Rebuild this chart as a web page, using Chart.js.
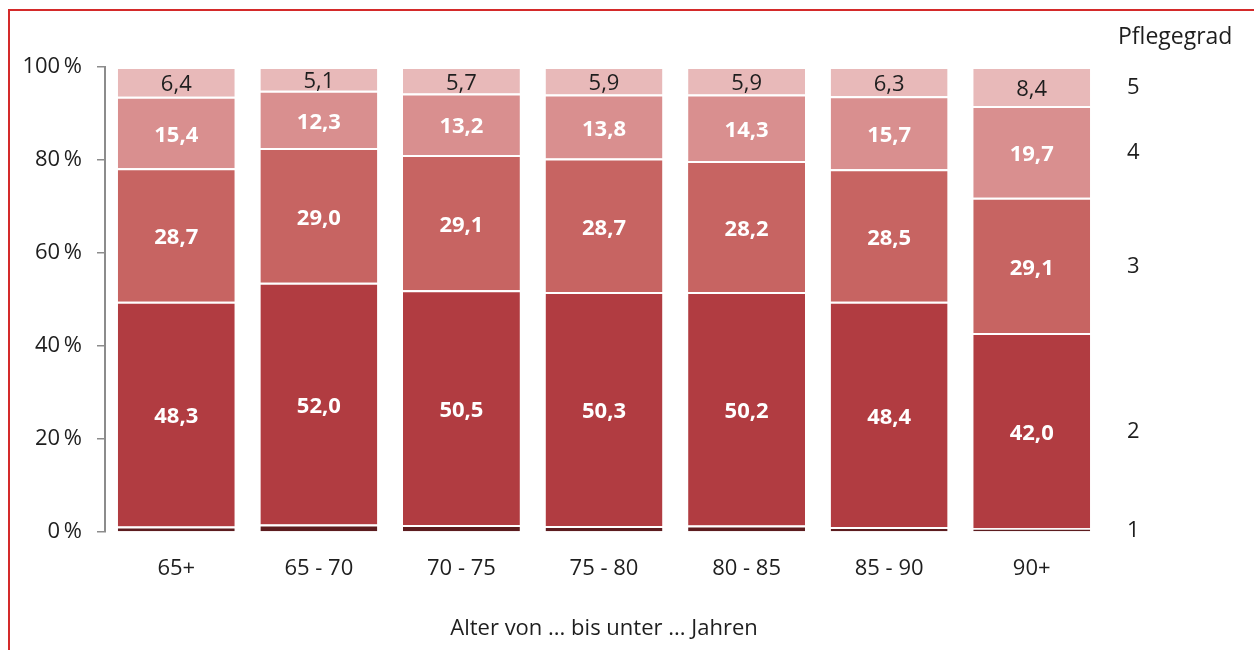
<!DOCTYPE html>
<html lang="de">
<head>
<meta charset="utf-8">
<script src="https://cdn.jsdelivr.net/npm/chart.js@4"></script>
<style>
  body { margin: 0; background: #fff; }
  #wrap { position: relative; width: 1254px; height: 650px; }
  #rahmen { position: absolute; left: 8px; top: 9px; right: 0; bottom: 0;
            border-left: 2px solid #d42a2a; border-top: 2px solid #d42a2a; pointer-events: none; }
</style>
</head>
<body>
<div id="wrap">
  <canvas id="pflege" width="1254" height="650"></canvas>
  <div id="rahmen"></div>
</div>
<script>
// Daten
const altersgruppen = ['65+', '65 - 70', '70 - 75', '75 - 80', '80 - 85', '85 - 90', '90+'];
const grad1 = [1.2, 1.6, 1.5, 1.3, 1.4, 1.1, 0.8];
const grad2 = [48.3, 52.0, 50.5, 50.3, 50.2, 48.4, 42.0];
const grad3 = [28.7, 29.0, 29.1, 28.7, 28.2, 28.5, 29.1];
const grad4 = [15.4, 12.3, 13.2, 13.8, 14.3, 15.7, 19.7];
const grad5 = [6.4, 5.1, 5.7, 5.9, 5.9, 6.3, 8.4];
const gradNamen = ['1', '2', '3', '4', '5'];
const yTicks = [0, 20, 40, 60, 80, 100];

const schrift = '"Open Sans", "Noto Sans", sans-serif';
const farben = ['#5c1c1f', '#b13c41', '#c76462', '#d98f8f', '#e8b9b9'];

// Werte in die Balken schreiben + Pflegegrad rechts
const beschriftung = {
  id: 'beschriftung',
  afterDatasetsDraw(chart) {
    const ctx = chart.ctx;
    ctx.save();
    ctx.textAlign = 'center';
    ctx.textBaseline = 'middle';
    chart.data.datasets.forEach((ds, d) => {
      if (d === 0) return;
      chart.getDatasetMeta(d).data.forEach((bar, i) => {
        const y = (bar.y + bar.base) / 2;
        const txt = ds.data[i].toFixed(1).replace('.', ',');
        if (d === 4) {
          ctx.fillStyle = '#1e1e1e';
          ctx.font = '22px ' + schrift;
        } else {
          ctx.fillStyle = '#ffffff';
          ctx.font = 'bold 22px ' + schrift;
        }
        ctx.fillText(txt, bar.x, y + 3);
      });
    });
    // Legende rechts, an den Segmenten der letzten Säule
    const last = altersgruppen.length - 1;
    ctx.textAlign = 'left';
    ctx.fillStyle = '#1e1e1e';
    ctx.font = '22px ' + schrift;
    chart.data.datasets.forEach((ds, d) => {
      const bar = chart.getDatasetMeta(d).data[last];
      ctx.fillText(gradNamen[d], 1127, (bar.y + bar.base) / 2 + 1);
    });
    ctx.font = '23px ' + schrift;
    ctx.fillText('Pflegegrad', 1118, 37);
    ctx.restore();
  }
};

const datasets = [grad1, grad2, grad3, grad4, grad5].map((werte, i) => ({
  label: 'Pflegegrad ' + gradNamen[i],
  data: werte,
  backgroundColor: farben[i],
  borderColor: '#ffffff',
  borderWidth: { top: 2, bottom: 0, left: 0, right: 0 },
  borderSkipped: false,
  barPercentage: 0.82,
  categoryPercentage: 1
}));

new Chart(document.getElementById('pflege'), {
  type: 'bar',
  data: { labels: altersgruppen, datasets: datasets },
  options: {
    responsive: false,
    animation: false,
    layout: { padding: { top: 67, right: 151, left: 0, bottom: 0 } },
    plugins: { legend: { display: false }, tooltip: { enabled: false } },
    scales: {
      x: {
        stacked: true,
        grid: { display: false },
        border: { display: false },
        ticks: { color: '#1e1e1e', font: { family: schrift, size: 22 }, padding: 16 },
        title: {
          display: true,
          text: 'Alter von ... bis unter ... Jahren',
          color: '#1e1e1e',
          font: { family: schrift, size: 22 },
          padding: { top: 0, bottom: 8 }
        },
        afterFit: s => { s.height = 118; }
      },
      y: {
        stacked: true,
        min: 0,
        max: 100,
        afterBuildTicks: s => { s.ticks = yTicks.map(v => ({ value: v })); },
        ticks: {
          color: '#1e1e1e',
          font: { family: schrift, size: 22 },
          padding: 15,
          callback: v => v + '\u2009%'
        },
        grid: { drawOnChartArea: false, drawTicks: true, tickLength: 8, color: '#8c8c8c', lineWidth: 1.5 },
        border: { display: true, color: '#8c8c8c', width: 2 },
        afterFit: s => { s.width = 105; }
      }
    }
  },
  plugins: [beschriftung]
});
</script>
</body>
</html>
